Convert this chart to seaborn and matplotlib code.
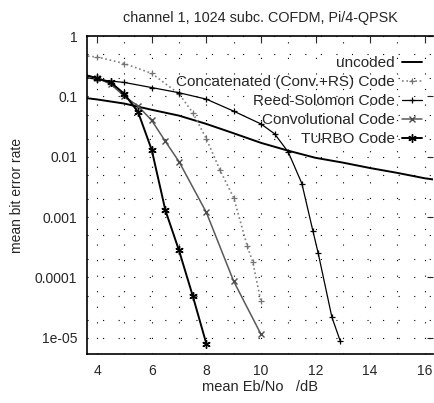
import numpy as np
import pandas as pd
import matplotlib
matplotlib.use("Agg")
import matplotlib.pyplot as plt
import seaborn as sns
from matplotlib.ticker import FixedLocator, NullFormatter

# ---- data ----
unc_x = [3.5, 4, 5, 6, 7, 8, 9, 10, 11, 12, 13, 14, 15, 16, 16.5]
unc_y = [0.095, 0.089, 0.076, 0.060, 0.048, 0.035, 0.0245, 0.017, 0.0126,
         0.0096, 0.0080, 0.0065, 0.0054, 0.0044, 0.0041]

cat_x = [3.5, 4, 5, 6, 7, 7.5, 8, 8.5, 9, 9.5, 9.7, 10]
cat_y = [0.47, 0.45, 0.35, 0.24, 0.11, 0.054, 0.02, 0.006, 0.0021,
         3.3e-4, 1.8e-4, 4.0e-5]

rs_x = [3.5, 4, 5, 6, 7, 8, 9, 10, 10.5, 11, 11.5, 11.9, 12.1, 12.6, 12.9]
rs_y = [0.21, 0.19, 0.17, 0.14, 0.115, 0.09, 0.057, 0.035, 0.024, 0.012,
        0.0036, 6.0e-4, 2.5e-4, 2.2e-5, 9.0e-6]

conv_x = [3.5, 4, 4.5, 5, 5.5, 6, 6.5, 7, 8, 9, 10]
conv_y = [0.23, 0.2, 0.16, 0.1, 0.069, 0.04, 0.018, 0.0083, 0.0012, 8.7e-5, 1.15e-5]

turbo_x = [3.5, 4, 4.5, 5, 5.5, 6, 6.5, 7, 7.5, 8]
turbo_y = [0.23, 0.2, 0.17, 0.11, 0.055, 0.013, 0.0013, 2.8e-4, 5.0e-5, 8.0e-6]

labels = ["uncoded", "Concatenated (Conv.+RS) Code", "Reed-Solomon Code",
          "Convolutional Code", "TURBO Code"]
title = "channel 1, 1024 subc. COFDM, Pi/4-QPSK"
xticks = [4, 6, 8, 10, 12, 14, 16]
yticks = [1, 0.1, 0.01, 0.001, 0.0001, 1e-05]
ytick_labels = ["1", "0.1", "0.01", "0.001", "0.0001", "1e-05"]

series = [(unc_x, unc_y), (cat_x, cat_y), (rs_x, rs_y), (conv_x, conv_y), (turbo_x, turbo_y)]

sns.set_style("white")
plt.rcParams['font.family'] = ['Liberation Sans', 'DejaVu Sans']

fig = plt.figure(figsize=(4.34, 4.03), dpi=100)
ax = fig.add_axes([0.2005, 0.1216, 0.797, 0.789])

styles = [
    dict(color="black", linestyle="-", linewidth=1.4, marker=None),
    dict(color="0.5", linestyle=":", linewidth=1.2, marker="+", markersize=4.5,
         markeredgewidth=0.9, markeredgecolor="0.45"),
    dict(color="black", linestyle="-", linewidth=0.9, marker="+", markersize=4.5,
         markeredgewidth=0.9, markeredgecolor="black"),
    dict(color="0.35", linestyle="-", linewidth=1.1, marker="x", markersize=4.5,
         markeredgewidth=1.0, markeredgecolor="0.3"),
    dict(color="black", linestyle="-", linewidth=1.4, marker=(6, 2, 0), markersize=6,
         markeredgewidth=1.0, markeredgecolor="black"),
]

for (xs, ys), lab, st in zip(series, labels, styles):
    df = pd.DataFrame({"x": xs, "y": ys})
    sns.lineplot(data=df, x="x", y="y", ax=ax, label=lab, **st)

ax.set_yscale("log")
ax.set_xlim(3.63, 16.3)
ax.set_ylim(5.4e-6, 1)
ax.set_xticks(xticks)
ax.set_xticklabels([str(t) for t in xticks])
ax.yaxis.set_major_locator(FixedLocator(yticks))
ax.set_yticklabels(ytick_labels)
ax.xaxis.set_minor_locator(FixedLocator(np.arange(4, 17, 1)))
ax.yaxis.set_minor_locator(FixedLocator([m * 10.0 ** e for e in range(-6, 1) for m in (2, 5)]))
ax.yaxis.set_minor_formatter(NullFormatter())

ax.tick_params(axis="both", which="major", direction="in", length=4, width=0.8,
               labelsize=10, top=True, right=True, pad=7)
ax.tick_params(axis="both", which="minor", direction="in", length=0, top=False, right=False)
ax.grid(True, which="both", color="black", linestyle=(0, (1, 13)), linewidth=0.8)

for s in ax.spines.values():
    s.set_color("black")
    s.set_linewidth(1.2)
ax.spines["right"].set_visible(False)

ax.set_title(title, fontsize=10.4, pad=10)
ax.set_xlabel("mean Eb/No   /dB", fontsize=10.5, labelpad=2)
ax.set_ylabel("mean bit error rate", fontsize=10, labelpad=8)

leg = ax.legend(loc="upper right", bbox_to_anchor=(1.0, 0.97), markerfirst=False,
                frameon=False, fontsize=11, handlelength=1.3, handletextpad=0.5,
                labelspacing=0.33, borderpad=0.2)
for t in leg.get_texts():
    t.set_ha("right")

fig.savefig("out.png", dpi=100)
